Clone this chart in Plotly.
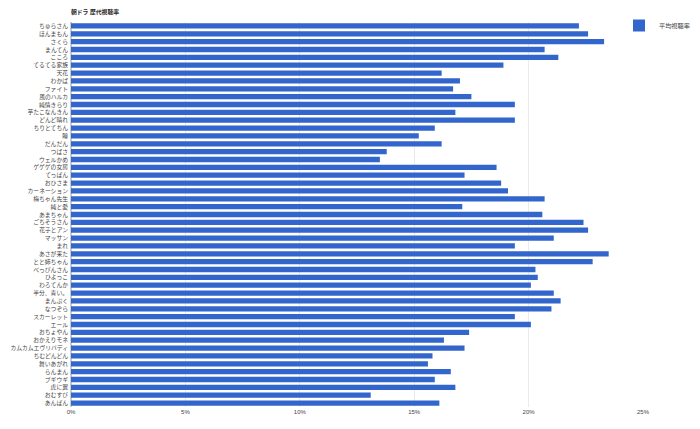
import plotly.graph_objects as go

titles = ["ちゅらさん", "ほんまもん", "さくら", "まんてん", "こころ", "てるてる家族", "天花", "わかば",
          "ファイト", "風のハルカ", "純情きらり", "芋たこなんきん", "どんど晴れ", "ちりとてちん", "瞳",
          "だんだん", "つばさ", "ウェルかめ", "ゲゲゲの女房", "てっぱん", "おひさま", "カーネーション",
          "梅ちゃん先生", "純と愛", "あまちゃん", "ごちそうさん", "花子とアン", "マッサン", "まれ",
          "あさが来た", "とと姉ちゃん", "べっぴんさん", "ひよっこ", "わろてんか", "半分、青い。",
          "まんぷく", "なつぞら", "スカーレット", "エール", "おちょやん", "おかえりモネ",
          "カムカムエヴリバディ", "ちむどんどん", "舞いあがれ", "らんまん", "ブギウギ", "虎に翼",
          "おむすび", "あんぱん"]
ratings = [22.2, 22.6, 23.3, 20.7, 21.3, 18.9, 16.2, 17.0, 16.7, 17.5, 19.4, 16.8, 19.4, 15.9, 15.2,
           16.2, 13.8, 13.5, 18.6, 17.2, 18.8, 19.1, 20.7, 17.1, 20.6, 22.4, 22.6, 21.1, 19.4,
           23.5, 22.8, 20.3, 20.4, 20.1, 21.1, 21.4, 21.0, 19.4, 20.1, 17.4, 16.3,
           17.2, 15.8, 15.6, 16.6, 15.9, 16.8, 13.1, 16.1]
x_ticks = [0, 5, 10, 15, 20, 25]
x_tick_labels = ["0%", "5%", "10%", "15%", "20%", "25%"]

FONT = "Arial, Liberation Sans, Noto Sans CJK JP, sans-serif"

# the page body has an 8px margin, so the figure is sized to fill the window
W, H = 692, 421

fig = go.Figure(go.Bar(
    y=titles, x=ratings, orientation="h", name="平均視聴率",
    marker=dict(color="#3366cc", line=dict(width=0)),
    showlegend=True,
))

fig.update_layout(
    width=W, height=H,
    margin=dict(l=63, r=57, t=14, b=22, autoexpand=False),
    paper_bgcolor="white", plot_bgcolor="white",
    font=dict(family=FONT, size=6, color="#444"),
    title=dict(text="<b>朝ドラ 歴代視聴率</b>", x=63/W, xanchor="left", y=1-4/H, yanchor="middle",
               font=dict(size=5.8, color="#222", family=FONT)),
    bargap=0.33,
    legend=dict(xref="container", yref="container", x=611/W, xanchor="left",
                y=1-3/H, yanchor="top", font=dict(size=6.2, color="#444"),
                bgcolor="rgba(0,0,0,0)", itemwidth=30, tracegroupgap=0),
    xaxis=dict(range=[0, 25], tickvals=x_ticks, ticktext=x_tick_labels, showgrid=True,
               gridcolor="#ebebeb", gridwidth=1, zeroline=True, zerolinecolor="#cccccc",
               showline=False, ticks="", automargin=False, tickfont=dict(size=6, color="#444")),
    yaxis=dict(autorange="reversed", showgrid=False, showline=False, ticks="", automargin=False,
               tickmode="array", tickvals=titles, ticktext=titles,
               tickfont=dict(size=5.8, color="#444"), ticklabelstandoff=2),
)

fig.write_html("out.html")
